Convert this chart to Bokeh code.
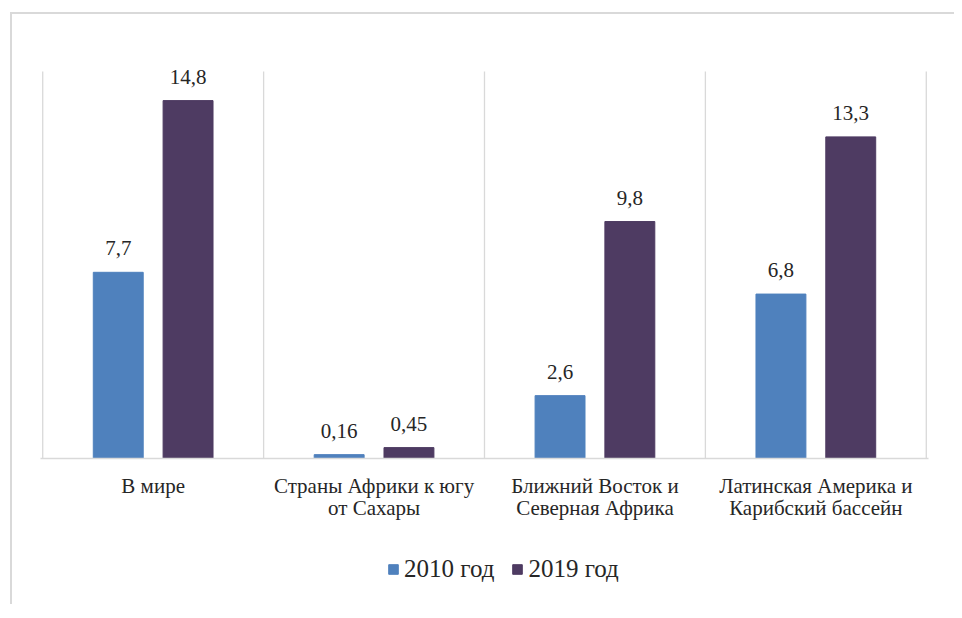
from bokeh.plotting import figure
from bokeh.models import (ColumnDataSource, Range1d, FixedTicker, Legend, LegendItem,
                          Column, LabelSet)
from bokeh.core.properties import value
from bokeh.embed import file_html
from bokeh.resources import INLINE

categories = ["В мире", "Страны Африки к югу\nот Сахары",
              "Ближний Восток и\nСеверная Африка",
              "Латинская Америка и\nКарибский бассейн"]
series_names = ["2010 год", "2019 год"]
values_2010 = [7.7, 0.16, 2.6, 6.8]
values_2019 = [14.8, 0.45, 9.8, 13.3]
labels_2010 = ["7,7", "0,16", "2,6", "6,8"]
labels_2019 = ["14,8", "0,45", "9,8", "13,3"]

colors = ["#4f81bd", "#4e3b62"]
FONT = "'Liberation Serif', 'Times New Roman', serif"
TXT = "#262626"

n = len(categories)
centers = [i + 0.5 for i in range(n)]
off = 0.158
bw = 0.226
y_max = 16

p = figure(width=942, height=530, output_backend="svg", toolbar_location=None,
           x_range=Range1d(-0.01, n + 0.01), y_range=Range1d(0, y_max + 0.5),
           y_axis_location=None, min_border_left=28, min_border_right=26,
           min_border_top=45, min_border_bottom=86)
p.outline_line_color = None
p.xgrid.visible = False
p.ygrid.visible = False

# separators between categories
sep_x = list(range(n + 1))
p.segment(x0=sep_x, x1=sep_x, y0=[0] * len(sep_x), y1=[y_max] * len(sep_x),
          line_color="#d9d9d9", line_width=1.3)

src1 = ColumnDataSource(dict(x=[c - off for c in centers], top=values_2010, lab=labels_2010))
src2 = ColumnDataSource(dict(x=[c + off for c in centers], top=values_2019, lab=labels_2019))
p.vbar(x="x", top="top", width=bw, bottom=0, source=src1,
       fill_color=colors[0], line_color=colors[0])
p.vbar(x="x", top="top", width=bw, bottom=0, source=src2,
       fill_color=colors[1], line_color=colors[1])

for s in (src1, src2):
    p.add_layout(LabelSet(x="x", y="top", text="lab", source=s, text_align="center",
                          text_baseline="middle", y_offset=24, text_font=value(FONT),
                          text_font_size="21px", text_color=TXT))

ax = p.xaxis[0]
ax.ticker = FixedTicker(ticks=centers)
ax.major_label_overrides = {c: lab for c, lab in zip(centers, categories)}
ax.major_tick_line_color = None
ax.minor_tick_line_color = None
ax.axis_line_color = "#d9d9d9"
ax.axis_line_width = 1.5
ax.major_label_standoff = 9
ax.major_label_text_font = FONT
ax.major_label_text_font_size = "21px"
ax.major_label_text_color = TXT
ax.major_label_text_line_height = 0.95

# legend strip (its renderers reuse the series data, kept below its view)
p2 = figure(width=942, height=60, output_backend="svg", toolbar_location=None,
            x_range=Range1d(-0.01, n + 0.01), y_range=Range1d(100, 101),
            x_axis_location=None, y_axis_location=None,
            min_border_left=0, min_border_right=0, min_border_top=0, min_border_bottom=0)
p2.outline_line_color = None
p2.xgrid.visible = False
p2.ygrid.visible = False
d1 = p2.vbar(x="x", top="top", width=bw, bottom=0, source=src1,
             fill_color=colors[0], line_color=colors[0])
d2 = p2.vbar(x="x", top="top", width=bw, bottom=0, source=src2,
             fill_color=colors[1], line_color=colors[1])

legend = Legend(items=[LegendItem(label=series_names[0], renderers=[d1]),
                       LegendItem(label=series_names[1], renderers=[d2])],
                orientation="horizontal", location=(347, 21),
                glyph_width=12, glyph_height=12, label_standoff=5, spacing=17,
                padding=0, margin=0, border_line_color=None,
                background_fill_alpha=0, label_text_font=FONT,
                label_text_font_size="25px", label_text_color=TXT)
p2.add_layout(legend, "center")

layout = Column(children=[p, p2], spacing=0,
                styles={"margin-left": "10px", "margin-top": "12px",
                        "border-left": "2px solid #d9d9d9",
                        "border-top": "2px solid #d9d9d9"})

open("out.html", "w").write(file_html(layout, INLINE))
